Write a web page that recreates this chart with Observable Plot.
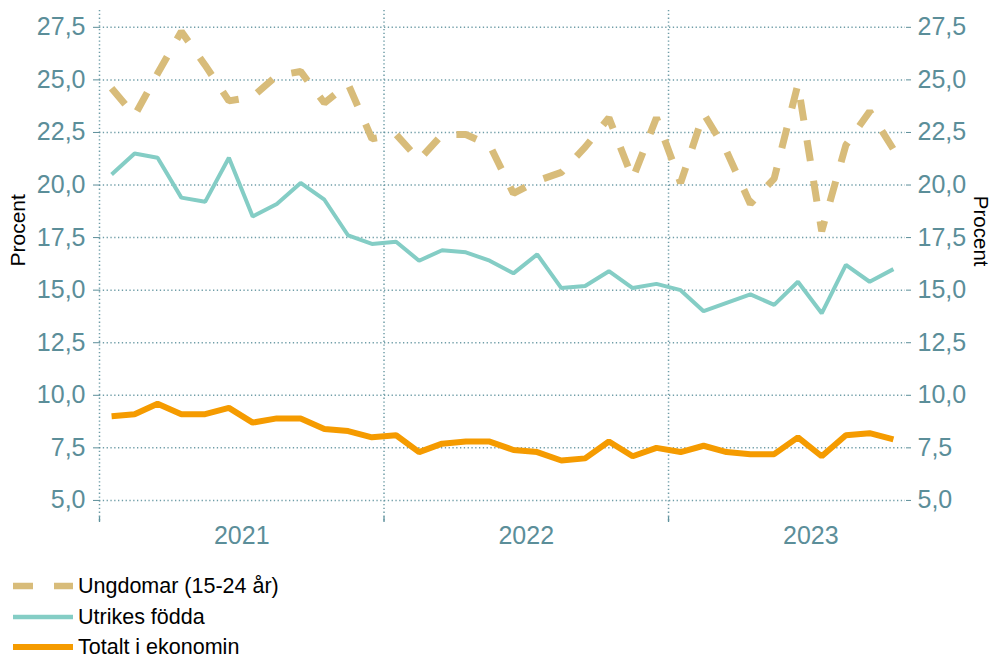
<!DOCTYPE html>
<html>
<head>
<meta charset="utf-8">
<script src="https://cdn.jsdelivr.net/npm/d3@7"></script>
<script src="https://cdn.jsdelivr.net/npm/@observablehq/plot@0.6"></script>
<style>
  html, body { margin: 0; padding: 0; background: #fff; }
  body { width: 993px; height: 657px; position: relative; overflow: hidden; font-family: "Liberation Sans", Arial, sans-serif; }
  #chart { position: absolute; left: 0; top: 0; }
  .leg { position: absolute; left: 13px; height: 30px; display: flex; align-items: center; font-size: 21.5px; color: #000; white-space: nowrap; }
  .leg svg { margin-right: 5px; }
</style>
</head>
<body>
<div id="chart"></div>
<div id="legend"></div>
<script>
// ---- Data (monthly, Jan 2021 – Oct 2023) ----
const startMonth = "2021-01-01";
const endMonth = "2023-11-01";
const ungdomar = [24.6, 23.3, 25.3, 27.3, 25.7, 24.0, 24.2, 25.2, 25.4, 23.9, 24.8, 22.2,
                  22.4, 21.2, 22.4, 22.4, 21.9, 19.6, 20.2, 20.6, 21.8, 23.2, 20.3, 23.2,
                  20.1, 23.4, 21.6, 19.1, 20.3, 24.8, 17.8, 21.9, 23.5, 21.7];
const utrikes = [20.5, 21.5, 21.3, 19.4, 19.2, 21.3, 18.5, 19.1, 20.1, 19.3, 17.6, 17.2,
                 17.3, 16.4, 16.9, 16.8, 16.4, 15.8, 16.7, 15.1, 15.2, 15.9, 15.1, 15.3,
                 15.0, 14.0, 14.4, 14.8, 14.3, 15.4, 13.9, 16.2, 15.4, 16.0];
const totalt = [9.0, 9.1, 9.6, 9.1, 9.1, 9.4, 8.7, 8.9, 8.9, 8.4, 8.3, 8.0,
                8.1, 7.3, 7.7, 7.8, 7.8, 7.4, 7.3, 6.9, 7.0, 7.8, 7.1, 7.5,
                7.3, 7.6, 7.3, 7.2, 7.2, 8.0, 7.1, 8.1, 8.2, 7.9];
const seriesNames = ["Ungdomar (15-24 år)", "Utrikes födda", "Totalt i ekonomin"];
const yTicks = [5, 7.5, 10, 12.5, 15, 17.5, 20, 22.5, 25, 27.5];
const yearLabels = ["2021", "2022", "2023"];
const yLabel = "Procent";

// ---- Styles ----
const colUng = "#d8bc7a", colUtr = "#84cdc5", colTot = "#f59b00";
const axisColor = "#5b8e99", gridColor = "#5f929d";
const gridDash = "1.3,2.5";
const font = "'Liberation Sans', Arial, sans-serif";

const months = d3.utcMonth.range(new Date(startMonth), new Date(endMonth));
const midMonth = m => new Date((+m + +d3.utcMonth.offset(m, 1)) / 2);
const rows = months.map((m, i) => ({date: midMonth(m), ung: ungdomar[i], utr: utrikes[i], tot: totalt[i]}));
const yearStarts = yearLabels.map(y => new Date(`${y}-01-01`));
const yearMids = yearLabels.map(y => new Date((+new Date(`${y}-01-01`) + +new Date(`${+y + 1}-01-01`)) / 2));
const fmt = d => d.toFixed(1).replace(".", ",");

const chart = Plot.plot({
  width: 993,
  height: 562,
  marginLeft: 99,
  marginRight: 88,
  marginTop: 10,
  marginBottom: 40,
  style: {fontFamily: font, background: "white", overflow: "visible"},
  x: {type: "utc", domain: [new Date(startMonth), new Date(endMonth)], axis: null},
  y: {domain: [3.95, 28.3], axis: null},
  marks: [
    Plot.gridY(yTicks, {stroke: gridColor, strokeOpacity: 0.9, strokeWidth: 1.5, strokeDasharray: gridDash}),
    Plot.ruleX(yearStarts, {stroke: gridColor, strokeOpacity: 0.9, strokeWidth: 1.5, strokeDasharray: gridDash}),
    Plot.ruleX(yearStarts, {y1: 3.95, y2: 4.22, stroke: gridColor, strokeWidth: 1.3}),
    Plot.axisY(yTicks, {anchor: "left", tickSize: 6, tickPadding: 8, tickFormat: fmt, fontSize: 25,
                        color: axisColor, label: null}),
    Plot.axisY(yTicks, {anchor: "right", tickSize: 5, tickPadding: 7, tickFormat: fmt, fontSize: 25,
                        color: axisColor, label: null}),
    Plot.text(yearLabels, {x: (d, i) => yearMids[i], frameAnchor: "bottom", dy: 21, fontSize: 25, fill: axisColor}),
    Plot.text([yLabel], {frameAnchor: "left", dx: -81, rotate: -90, fontSize: 21, fill: "black"}),
    Plot.text([yLabel], {frameAnchor: "right", dx: 75, rotate: 90, fontSize: 20.5, fill: "black"}),
    Plot.line(rows, {x: "date", y: "tot", stroke: colTot, strokeWidth: 6, strokeLinejoin: "miter", strokeLinecap: "butt"}),
    Plot.line(rows, {x: "date", y: "utr", stroke: colUtr, strokeWidth: 4, strokeLinejoin: "miter", strokeLinecap: "butt"}),
    Plot.line(rows, {x: "date", y: "ung", stroke: colUng, strokeWidth: 7, strokeLinejoin: "miter",
                     strokeLinecap: "butt", strokeDasharray: "21,20"})
  ]
});
document.getElementById("chart").appendChild(chart);

// ---- Legend ----
const legendItems = [
  {name: seriesNames[0], color: colUng, width: 6.5, dash: "20,21", top: 571},
  {name: seriesNames[1], color: colUtr, width: 4.5, dash: null, top: 602},
  {name: seriesNames[2], color: colTot, width: 6, dash: null, top: 632}
];
const legend = document.getElementById("legend");
for (const it of legendItems) {
  const row = document.createElement("div");
  row.className = "leg";
  row.style.top = it.top + "px";
  row.innerHTML = `<svg width="60" height="10"><line x1="0" x2="60" y1="5" y2="5" stroke="${it.color}" stroke-width="${it.width}" ${it.dash ? `stroke-dasharray="${it.dash}"` : ""}/></svg><span>${it.name}</span>`;
  legend.appendChild(row);
}
</script>
</body>
</html>
